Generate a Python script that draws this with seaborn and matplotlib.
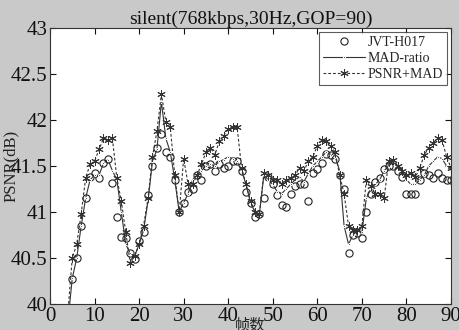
import numpy as np
import pandas as pd
import matplotlib
matplotlib.use("Agg")
import matplotlib.pyplot as plt
import seaborn as sns

frames = list(range(4, 91))

jvt_h017 = [39.8, 40.27, 40.5, 40.85, 41.15, 41.38, 41.42, 41.37, 41.53, 41.58,
            41.32, 40.95, 40.73, 40.72, 40.55, 40.49, 40.68, 40.78, 41.18, 41.5,
            41.7, 41.85, 41.65, 41.6, 41.35, 41.0, 41.1, 41.22, 41.25, 41.4,
            41.35, 41.5, 41.52, 41.45, 41.52, 41.48, 41.5, 41.55, 41.55, 41.45,
            41.22, 41.1, 40.95, 40.98, 41.15, 41.38, 41.3, 41.18, 41.08, 41.05,
            41.2, 41.28, 41.3, 41.3, 41.12, 41.42, 41.47, 41.53, 41.63, 41.62,
            41.58, 41.4, 41.25, 40.55, 40.75, 40.77, 40.72, 41.0, 41.2, 41.33,
            41.37, 41.47, 41.5, 41.5, 41.45, 41.38, 41.2, 41.2, 41.2, 41.35,
            41.42, 41.4, 41.37, 41.42, 41.37, 41.35, 41.35]

mad_ratio = [39.8, 40.28, 40.5, 40.85, 41.15, 41.35, 41.4, 41.4, 41.53, 41.57,
             41.45, 41.35, 41.0, 40.65, 40.55, 40.52, 40.65, 40.8, 41.12, 41.55,
             41.68, 42.2, 41.8, 41.65, 41.35, 41.0, 41.1, 41.2, 41.35, 41.4,
             41.45, 41.5, 41.52, 41.5, 41.55, 41.57, 41.6, 41.58, 41.55, 41.45,
             41.3, 41.1, 41.0, 40.98, 41.4, 41.35, 41.3, 41.22, 41.2, 41.25,
             41.3, 41.35, 41.38, 41.33, 41.42, 41.5, 41.55, 41.6, 41.65, 41.62,
             41.6, 41.45, 40.85, 40.65, 40.75, 40.8, 40.78, 41.15, 41.25, 41.3,
             41.35, 41.45, 41.5, 41.55, 41.5, 41.45, 41.35, 41.3, 41.3, 41.35,
             41.4, 41.5, 41.55, 41.6, 41.58, 41.5, 41.45]

psnr_mad = [39.9, 40.5, 40.65, 40.98, 41.37, 41.52, 41.55, 41.68, 41.8, 41.78,
            41.8, 41.37, 41.12, 40.78, 40.45, 40.52, 40.65, 40.85, 41.15, 41.6,
            41.88, 42.28, 41.98, 41.92, 41.4, 41.0, 41.58, 41.3, 41.3, 41.4,
            41.52, 41.65, 41.7, 41.62, 41.77, 41.83, 41.9, 41.92, 41.92, 41.48,
            41.3, 41.12, 41.0, 40.98, 41.42, 41.4, 41.35, 41.35, 41.3, 41.35,
            41.37, 41.4, 41.48, 41.45, 41.55, 41.6, 41.72, 41.78, 41.77, 41.72,
            41.65, 41.4, 41.2, 40.85, 40.8, 40.8, 40.85, 41.35, 41.28, 41.2,
            41.2, 41.15, 41.55, 41.57, 41.5, 41.45, 41.4, 41.42, 41.38, 41.48,
            41.62, 41.7, 41.75, 41.8, 41.78, 41.6, 41.48]

series_names = ["JVT-H017", "MAD-ratio", "PSNR+MAD"]
x_ticks = list(range(0, 91, 10))
y_ticks = [40, 40.5, 41, 41.5, 42, 42.5, 43]
y_tick_labels = ["40", "40.5", "41", "41.5", "42", "42.5", "43"]
title = "silent(768kbps,30Hz,GOP=90)"

sns.set_style("ticks")
plt.rcParams["font.family"] = ["Liberation Serif", "Noto Sans CJK SC"]

fig = plt.figure(figsize=(4.59, 3.30), dpi=100, facecolor="#c9c9c9")
ax = fig.add_axes([50 / 459, 1 - 304 / 330, (451 - 50) / 459, (304 - 28) / 330])
ax.set_facecolor("white")

sns.lineplot(x=frames, y=jvt_h017, ax=ax, color="#222222", linestyle="none",
             marker="o", markersize=5.2, markerfacecolor="none",
             markeredgecolor="#222222", markeredgewidth=0.8, label=series_names[0])
sns.lineplot(x=frames, y=mad_ratio, ax=ax, color="#333333", linewidth=0.8,
             linestyle="-", marker=".", markersize=3, label=series_names[1])
sns.lineplot(x=frames, y=psnr_mad, ax=ax, color="#333333", linewidth=0.8,
             linestyle=(0, (2.5, 1.8)), marker=(6, 2, 0), markersize=6,
             markeredgewidth=0.7, markeredgecolor="#333333", label=series_names[2])

ax.set_xlim(0, 90)
ax.set_ylim(40, 43)
ax.set_xticks(x_ticks)
ax.set_yticks(y_ticks)
ax.set_yticklabels(y_tick_labels)
ax.tick_params(direction="in", top=True, right=True, labelsize=15, length=4,
               width=0.8, pad=2, colors="#111111")
for s in ax.spines.values():
    s.set_color("#333333")
    s.set_linewidth(0.8)

ax.set_title(title, fontsize=14, pad=3, color="#111111")
ax.set_ylabel("PSNR(dB)", fontsize=12, labelpad=-6, color="#222222")
ax.set_xlabel("帧数", fontsize=11, labelpad=-5, color="#222222")

leg = ax.legend(loc="upper right", fontsize=10, frameon=True, fancybox=False,
                borderpad=0.3, labelspacing=0.2, handlelength=3.0,
                handletextpad=0.2, borderaxespad=0.3)
leg.get_frame().set_edgecolor("#333333")
leg.get_frame().set_linewidth(0.8)

fig.savefig("out.png", dpi=100, facecolor=fig.get_facecolor())
